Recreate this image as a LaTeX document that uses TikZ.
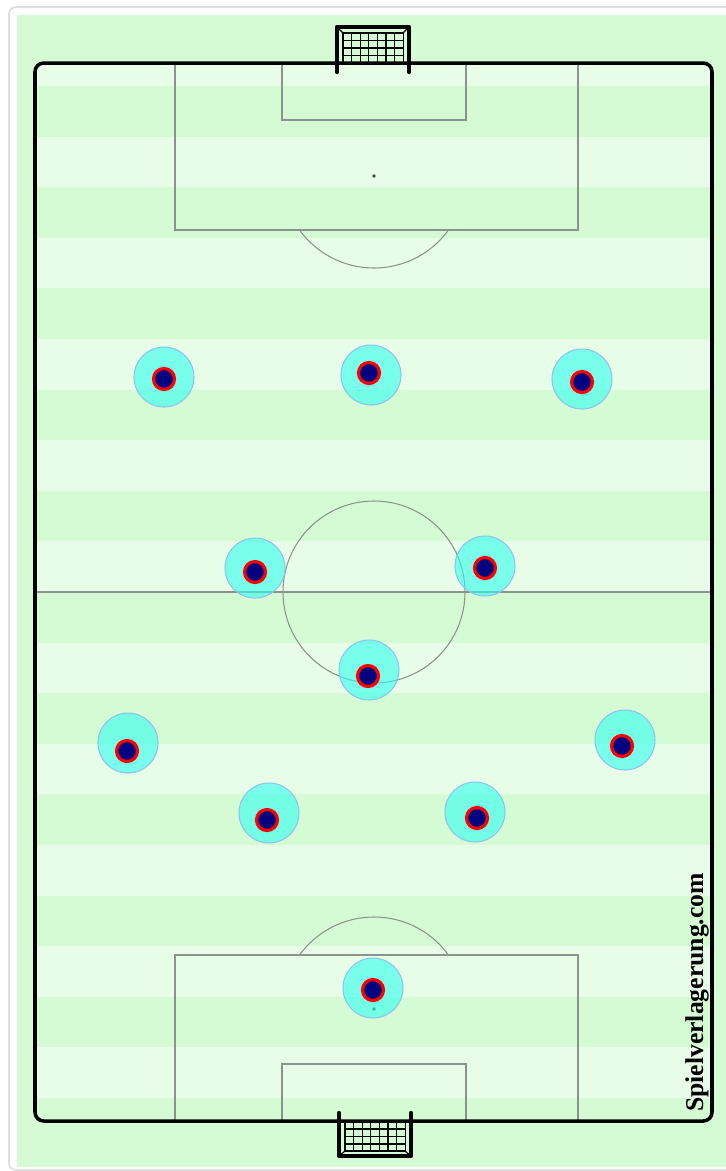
\documentclass[tikz,border=0pt]{standalone}
\usepackage{fontspec}
\newfontfamily\markfont{Liberation Serif}
\definecolor{bgdark}{RGB}{213,251,213}
\definecolor{bglight}{RGB}{231,253,231}
\definecolor{framegrey}{RGB}{222,222,222}
\definecolor{linegrey}{RGB}{140,146,140}
\definecolor{spotgrey}{RGB}{60,72,72}
\definecolor{zonecyan}{RGB}{50,255,240}
\definecolor{zoneedge}{RGB}{140,195,240}
\definecolor{playernavy}{RGB}{0,0,128}

\begin{document}
\begin{tikzpicture}[x=0.02cm, y=-0.02cm,
    marking/.style={draw=linegrey, line width=0.6pt},
    goalframe/.style={draw=black, line width=2.4pt, line cap=round, line join=round},
    net/.style={draw=black, line width=0.7pt},
    zone/.style={circle, fill=zonecyan, fill opacity=0.6, draw=zoneedge, line width=0.6pt,
                 minimum size=1.2cm, inner sep=0pt},
    player/.style={circle, fill=playernavy, draw=red, line width=1.8pt,
                   minimum size=0.42cm, inner sep=0pt},
    watermark/.style={rotate=90, anchor=base, inner sep=0pt,
                      font=\markfont\bfseries\fontsize{14.6}{16}\selectfont}
  ]
  \useasboundingbox (0,0) rectangle (725,1171);
  % frame and grass
  \draw[framegrey, line width=1pt, rounded corners=4pt] (9,7) rectangle (760,1170);
  \fill[bgdark] (17,15) rectangle (740,1167);
  \begin{scope}
    \clip[rounded corners=5pt] (35,63) rectangle (712,1121);
    \foreach \k in {0,...,10}
      \fill[bglight] (35,{35.4+101.2*\k}) rectangle (712,{86+101.2*\k});
  \end{scope}
  % markings
  \draw[marking] (35,592) -- (712,592);
  \draw[marking] (374,592) circle[radius=91];
  \draw[marking] (175,63) rectangle (578,230);
  \draw[marking] (282,63) rectangle (466,120);
  \draw[marking] (175,955) rectangle (578,1121);
  \draw[marking] (282,1064) rectangle (466,1121);
  \begin{scope}
    \clip (0,230) rectangle (725,300);
    \draw[marking] (374,176) circle[radius=92];
  \end{scope}
  \begin{scope}
    \clip (0,880) rectangle (725,955);
    \draw[marking] (374,1009) circle[radius=92];
  \end{scope}
  \fill[spotgrey] (374,176) circle[radius=1.8];
  \fill[spotgrey] (374,1009) circle[radius=1.8];
  % goals
  \foreach \x in {343,351.6,...,404}
    \draw[net] (\x,33) -- (\x,63);
  \foreach \y in {33,40.5,48,55.5}
    \draw[net] (343,\y) -- (403,\y);
  \draw[net] (337,27) -- (343,33) (409,27) -- (403,33);
  \draw[goalframe] (337,72) -- (337,27) -- (409,27) -- (409,72);
  \foreach \x in {345,353.6,...,406}
    \draw[net] (\x,1121) -- (\x,1151);
  \foreach \y in {1129,1136.5,1144,1151}
    \draw[net] (345,\y) -- (405,\y);
  \draw[net] (339,1156) -- (345,1151) (411,1156) -- (405,1151);
  \draw[goalframe] (339,1113) -- (339,1156) -- (411,1156) -- (411,1113);
  % pitch outline
  \draw[black, line width=2pt, rounded corners=5pt] (35,63) rectangle (712,1121);
  % players: zone x/y, player x/y
  \foreach \ox/\oy/\ix/\iy [count=\n] in {
      164/377/164/379, 371/375/369/373, 582/379/582/382,
      255/568/255/572, 485/566/485/568, 369/670/368/676,
      128/743/127/751, 625/740/622/746, 269/813/267/820,
      475/812/477/818, 373/988/373/990} {
    \node[zone] (zone\n) at (\ox,\oy) {};
    \node[player] (player\n) at (\ix,\iy) {};
  }
  \node[watermark] (credit) at (703,992.5) {Spielverlagerung.com};
\end{tikzpicture}
\end{document}
